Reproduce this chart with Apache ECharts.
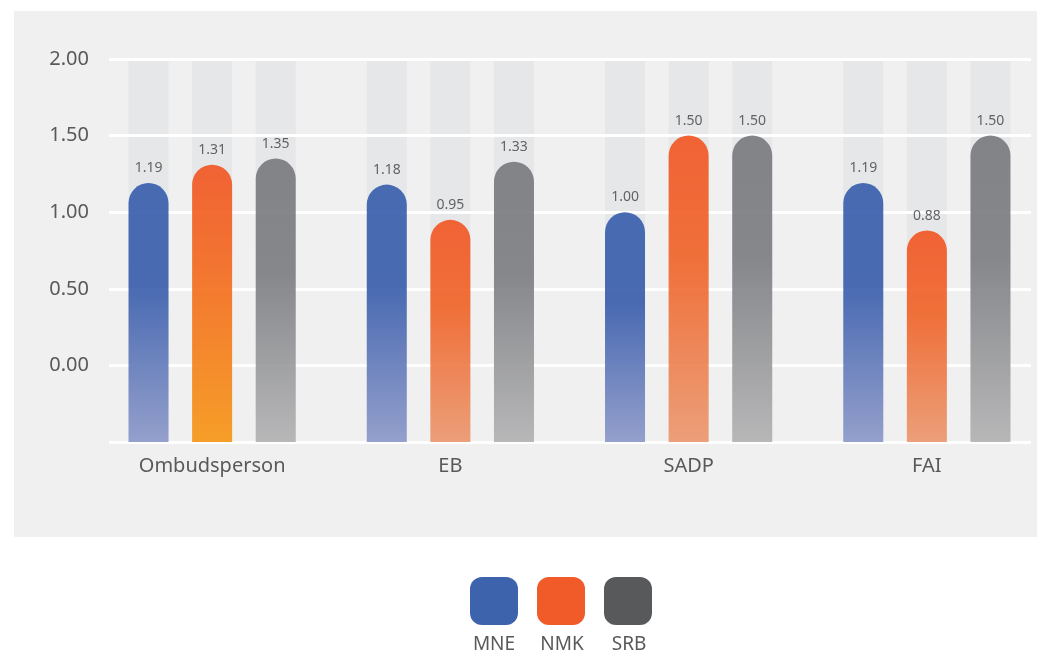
<!DOCTYPE html>
<html>
<head>
<meta charset="utf-8">
<title>Index scores by institution</title>
<script src="https://cdn.jsdelivr.net/npm/echarts@6/dist/echarts.min.js"></script>
<style>
  html, body { margin: 0; padding: 0; background: #ffffff; }
  #chart { width: 1052px; height: 655px; }
</style>
</head>
<body>
<div id="chart"></div>
<script>
// Institutions on the x axis
const categories = ['Ombudsperson', 'EB', 'SADP', 'FAI'];
// Countries (series)
const seriesNames = ['MNE', 'NMK', 'SRB'];
// Scores per institution
const mneValues = [1.19, 1.18, 1.00, 1.19];
const nmkValues = [1.31, 0.95, 1.50, 0.88];
const srbValues = [1.35, 1.33, 1.50, 1.50];
// Value axis: bars grow from the bottom of the scale
const axisFloor = -0.5;
const axisCeil = 2.0;
const tickStep = 0.5;

const textColor = '#595959';
const font = "'Noto Sans', 'Open Sans', sans-serif";

function grad(stops) {
  return new echarts.graphic.LinearGradient(0, 0, 0, 1,
    stops.map(function (s) { return { offset: s[0], color: s[1] }; }));
}

const palette = {
  MNE: { legend: '#3d63ad', stops: [[0, '#3d62ae'], [0.4, '#3f62ae'], [1, '#8f9bca']] },
  NMK: { legend: '#f15a29', stops: [[0, '#f15a29'], [0.4, '#f0682e'], [1, '#ec9a72']] },
  SRB: { legend: '#58595b', stops: [[0, '#7c7d81'], [0.4, '#808185'], [1, '#b4b4b5']] }
};
// Ombudsperson NMK bar fades to amber instead of salmon
const nmkWarm = [[0, '#f15a29'], [0.35, '#f36c25'], [1, '#f7991c']];

const valuesBySeries = { MNE: mneValues, NMK: nmkValues, SRB: srbValues };

function barData(name) {
  return valuesBySeries[name].map(function (v, i) {
    const stops = (name === 'NMK' && categories[i] === 'Ombudsperson') ? nmkWarm : palette[name].stops;
    return { value: v - axisFloor, itemStyle: { color: grad(stops) } };
  });
}

const barLayout = { barWidth: 40, barGap: '59%' };

const trackSeries = seriesNames.map(function (name) {
  return Object.assign({
    name: name + ' track',
    type: 'bar',
    xAxisIndex: 0,
    yAxisIndex: 0,
    z: 0,
    silent: true,
    itemStyle: { color: '#e6e7e9' },
    data: categories.map(function () { return axisCeil - axisFloor; })
  }, barLayout);
});

const mainSeries = seriesNames.map(function (name) {
  return Object.assign({
    name: name,
    type: 'bar',
    xAxisIndex: 1,
    yAxisIndex: 0,
    z: 2,
    itemStyle: { borderRadius: [20, 20, 0, 0], opacity: 0.94 },
    label: {
      show: true,
      position: 'top',
      distance: 8,
      fontFamily: font,
      fontSize: 14,
      color: textColor,
      formatter: function (p) { return valuesBySeries[name][p.dataIndex].toFixed(2); }
    },
    data: barData(name)
  }, barLayout);
});

const chart = echarts.init(document.getElementById('chart'), null, { renderer: 'canvas' });

const legendX = [494, 562, 629];

chart.setOption({
  backgroundColor: '#ffffff',
  animation: false,
  textStyle: { fontFamily: font },
  graphic: {
    elements: [
      { type: 'rect', left: 14, top: 11, z: -100, silent: true,
        shape: { width: 1023, height: 526 }, style: { fill: '#f0f0f0' } }
    ].concat(seriesNames.map(function (name, i) {
      return {
        type: 'text', x: legendX[i], y: 645, silent: true,
        style: { text: name, fill: textColor, font: '19px ' + font, align: 'center', verticalAlign: 'middle' }
      };
    }))
  },
  legend: {
    left: 465,
    top: 572,
    itemWidth: 48,
    itemHeight: 48,
    itemGap: 19,
    icon: 'roundRect',
    selectedMode: false,
    formatter: function () { return ''; },
    data: seriesNames.map(function (name) {
      return { name: name, itemStyle: { color: palette[name].legend, opacity: 1 } };
    })
  },
  grid: [
    { left: 93, width: 953, top: 59, height: 383 },
    { left: 109, width: 922, top: 59, height: 383 }
  ],
  xAxis: [
    {
      type: 'category', gridIndex: 0, data: categories,
      axisLine: { show: false }, axisTick: { show: false },
      axisLabel: { fontSize: 20, color: textColor, margin: 14, fontFamily: font }
    },
    { type: 'category', gridIndex: 0, data: categories, show: false },
    { type: 'category', gridIndex: 1, data: categories, show: false }
  ],
  yAxis: [
    { type: 'value', gridIndex: 0, min: 0, max: axisCeil - axisFloor, show: false },
    {
      type: 'value', gridIndex: 1, z: 1,
      min: 0, max: axisCeil - axisFloor, interval: tickStep,
      axisLine: { show: false }, axisTick: { show: false },
      splitLine: { show: true, lineStyle: { color: '#ffffff', width: 3 } },
      axisLabel: {
        fontSize: 20, color: textColor, margin: 20, fontFamily: font,
        formatter: function (v) {
          const real = v + axisFloor;
          return real < 0 ? '' : real.toFixed(2);
        }
      }
    }
  ],
  series: trackSeries.concat(mainSeries)
});
</script>
</body>
</html>
